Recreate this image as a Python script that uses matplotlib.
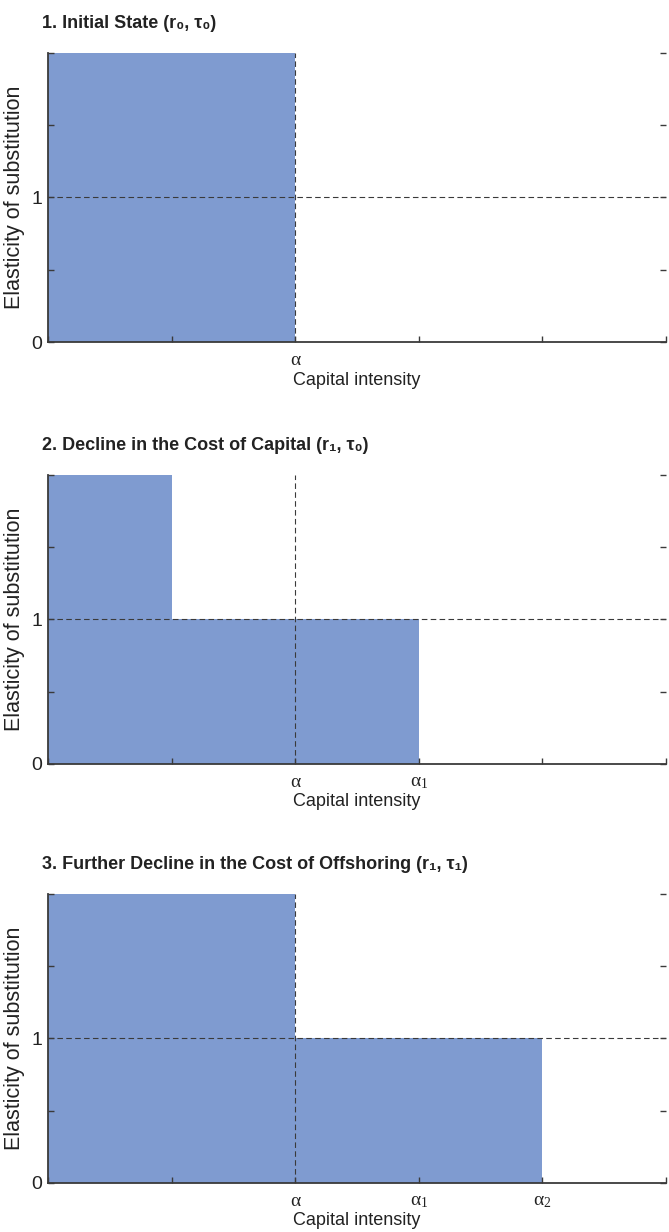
import matplotlib
matplotlib.use("Agg")
import matplotlib.pyplot as plt

# capital-intensity grid and elasticity levels
x_ticks = [0, 1, 2, 3, 4, 5]
y_ticks = [0, 0.5, 1, 1.5, 2]
y_labels = ["0", "", "1", "", ""]

titles = [
    "1. Initial State (r₀, τ₀)",
    "2. Decline in the Cost of Capital (r₁, τ₀)",
    "3. Further Decline in the Cost of Offshoring (r₁, τ₁)",
]
x_labels = [
    ["", "", "α", "", "", ""],
    ["", "", "α", "α$_1$", "", ""],
    ["", "", "α", "α$_1$", "α$_2$", ""],
]
# bar segments per panel: left edge, width, height
bar_left = [[0], [0, 1], [0, 2]]
bar_width = [[2], [1, 2], [2, 2]]
bar_height = [[2], [2, 1], [2, 1]]

alpha_pos = 2
unit_elasticity = 1

plt.rcParams["mathtext.fontset"] = "custom"
plt.rcParams["mathtext.rm"] = "Liberation Serif"
plt.rcParams["mathtext.it"] = "Liberation Serif"
plt.rcParams["mathtext.default"] = "rm"

sans = ["Liberation Sans", "DejaVu Sans"]
serif = ["Liberation Serif", "DejaVu Serif"]
bar_color = "#7f9bd0"
line_color = "#3a3a3a"
text_color = "#222222"

fig = plt.figure(figsize=(6.69, 12.32), dpi=100)
bottoms = [0.7224, 0.380, 0.0398]
height = 0.2346

for i in range(3):
    ax = fig.add_axes([0.0717, bottoms[i], 0.924, height])
    ax.bar(bar_left[i], bar_height[i], width=bar_width[i], align="edge",
           color=bar_color, linewidth=0, zorder=1)
    ax.axhline(unit_elasticity, color=line_color, lw=0.8, ls=(0, (5, 3)), zorder=2)
    ax.axvline(alpha_pos, color=line_color, lw=0.8, ls=(0, (5, 3)), zorder=2)

    ax.set_xlim(0, 5)
    ax.set_ylim(0, 2)
    ax.set_xticks(x_ticks)
    ax.set_xticklabels(x_labels[i], family=serif, fontsize=14, color=text_color)
    ax.set_yticks(y_ticks)
    ax.set_yticklabels(y_labels, family=sans, fontsize=14, color=text_color)
    ax.tick_params(axis="both", direction="in", length=4, width=1,
                   color=line_color)
    ax.tick_params(axis="x", pad=7)
    ax.tick_params(axis="y", right=True, pad=4)
    for s in ["top", "right"]:
        ax.spines[s].set_visible(False)
    for s in ["left", "bottom"]:
        ax.spines[s].set_color(line_color)
        ax.spines[s].set_linewidth(1.3)

    ax.set_xlabel("Capital intensity", family=sans, fontsize=13, color=text_color,
                  labelpad=2)
    ax.set_ylabel("Elasticity of substitution", family=sans, fontsize=15.5,
                  color=text_color, labelpad=5)
    ax.set_title(titles[i], family=sans, fontsize=13, fontweight="bold",
                 loc="left", x=-0.01, pad=18, color=text_color)

fig.savefig("out.png", dpi=100)
